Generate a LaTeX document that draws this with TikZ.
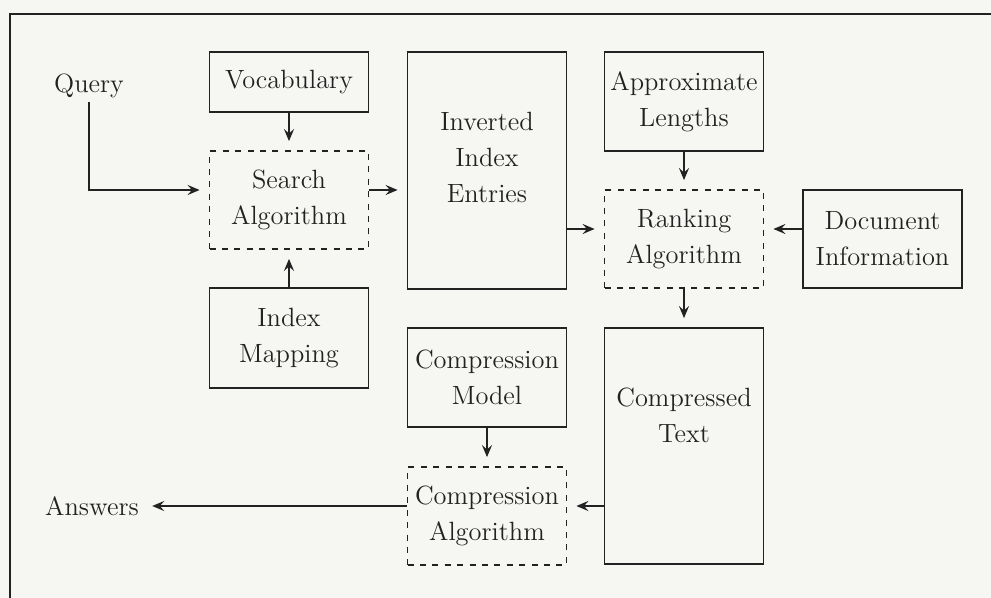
\documentclass[tikz,border=0pt]{standalone}
\usepackage{tikz}
\usetikzlibrary{arrows.meta}
\newlength{\blockwidth}
\setlength{\blockwidth}{79.5pt}
\definecolor{paper}{RGB}{246,246,243}
\definecolor{ink}{RGB}{34,34,34}

\begin{document}
\begin{tikzpicture}[x=0.5pt, y=-0.5pt,
    every node/.style={font=\fontsize{13.2}{18}\selectfont, text=ink},
    block/.style={draw=ink, line width=0.9pt, minimum width=\blockwidth, align=center, inner sep=0pt},
    process/.style={block, dash pattern=on 3pt off 3.2pt},
    flow/.style={draw=ink, line width=0.9pt, -{Stealth[length=6pt, width=5pt, inset=2.2pt]}, shorten >=4.5pt}]
    \fill[paper] (0,0) rectangle (991,598);
    \useasboundingbox (0,0) rectangle (991,598);
    \draw[ink, line width=1pt] (10,598) -- (10,14) -- (991,14);

    \node[inner sep=2pt] (query) at (89,86) {Query};
    \node[inner sep=2pt] (answers) at (92,506) {Answers};

    \node[block, minimum height=30pt] (vocabulary) at (289,82) {Vocabulary};
    \node[process, minimum height=49pt] (search) at (289,200) {Search\\Algorithm};
    \node[block, minimum height=50pt] (mapping) at (289,338) {Index\\Mapping};

    \node[block, minimum height=118.5pt] (inverted) at (487,170.5) {};
    \node[align=center] (invertedtext) at (487,157) {Inverted\\Index\\Entries};
    \node[block, minimum height=49.5pt] (model) at (487,377.5) {Compression\\Model};
    \node[process, minimum height=49pt] (compalg) at (487,516) {Compression\\Algorithm};

    \node[block, minimum height=49.5pt] (lengths) at (684,101.5) {Approximate\\Lengths};
    \node[process, minimum height=49pt] (ranking) at (684,239) {Ranking\\Algorithm};
    \node[block, minimum height=118pt] (compressed) at (684,446) {};
    \node[align=center] (compressedtext) at (684,415) {Compressed\\Text};

    \node[block, minimum height=49pt] (document) at (882.5,239) {Document\\Information};

    \draw[flow] (vocabulary) -- (search);
    \draw[flow] (mapping) -- (search);
    \draw[flow] (query.south) |- ([yshift=5pt]search.west);
    \draw[flow] ([yshift=5pt]search.east) -- ([yshift=5pt]search.east -| inverted.west);
    \draw[flow] ([yshift=5pt]ranking.west -| inverted.east) -- ([yshift=5pt]ranking.west);
    \draw[flow] ([yshift=5pt]document.west) -- ([yshift=5pt]ranking.east);
    \draw[flow] (lengths) -- (ranking);
    \draw[flow] (ranking) -- (compressed);
    \draw[flow] (model) -- (compalg);
    \draw[flow] ([yshift=5pt]compalg.east -| compressed.west) -- ([yshift=5pt]compalg.east);
    \draw[flow] ([yshift=5pt]compalg.west) -- (answers.east);
\end{tikzpicture}
\end{document}
